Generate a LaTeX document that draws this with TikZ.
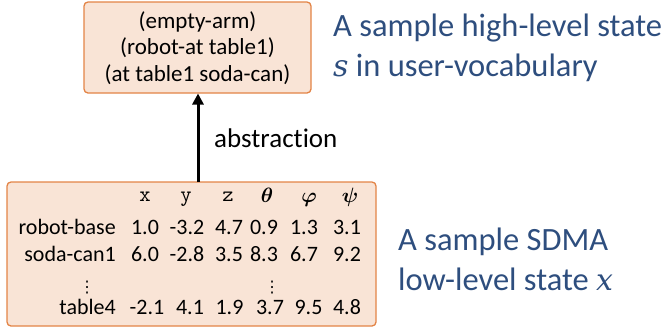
\documentclass[tikz,border=0pt]{standalone}
\usepackage{fontspec}
\usepackage{amsmath,bm}
\usetikzlibrary{arrows.meta}
\setmainfont{Carlito}[RawFeature={-liga}]
\newfontfamily\varit{DejaVu Serif}[RawFeature={-liga}]
\newfontfamily\symf{DejaVu Sans}
\definecolor{boxfill}{HTML}{F9E4D6}
\definecolor{boxline}{HTML}{E38446}
\definecolor{bluetxt}{HTML}{2E4E7E}
\begin{document}
\begin{tikzpicture}[x=1pt,y=-1pt,
  statebox/.style={draw=boxline,fill=boxfill,line width=1.3pt,rounded corners=4pt},
  cell/.style={inner sep=0pt,font=\fontsize{22}{24}\selectfont,anchor=base},
  lab/.style={inner sep=0pt,font=\fontsize{22}{24}\selectfont,anchor=base east},
  hdr/.style={inner sep=0pt,font=\ttfamily\fontsize{22}{24}\selectfont,anchor=base},
  pred/.style={inner sep=0pt,font=\fontsize{23}{26}\selectfont,anchor=base},
  dots/.style={inner sep=0pt,font=\symf\fontsize{16}{18}\selectfont,anchor=base},
  note/.style={inner sep=0pt,font=\fontsize{32.5}{36}\selectfont,text=bluetxt,anchor=base west}]
\useasboundingbox (0,0) rectangle (665,333);
% top box
\draw[statebox] (84,2) rectangle (311,93);
\node[pred] (p1) at (197.5,28) {(empty-arm)};
\node[pred] (p2) at (197.5,54) {(robot-at table1)};
\node[pred] (p3) at (197.5,81) {(at table1 soda-can)};
\coordinate (topb) at (198,93.5);
% bottom box
\draw[statebox] (7,182) rectangle (376,326);
\coordinate (botb) at (198,182);
\draw[line width=3pt,-{Triangle[length=11pt,width=11pt]}] (botb) -- (topb);
\node[inner sep=0pt,anchor=base west,font=\fontsize{27}{30}\selectfont] (abs) at (214,147) {abstraction};
% headers
\node[hdr] (hx) at (145,201) {x};
\node[hdr] (hy) at (186,201) {y};
\node[hdr] (hz) at (228,201) {z};
\node[cell] (ht) at (267,202) {$\bm{\theta}$};
\node[cell] (hp) at (309,202) {$\bm{\varphi}$};
\node[cell] (hq) at (350,202) {$\bm{\psi}$};
% rows
\node[lab] (l1) at (116,234) {robot-base};
\node[cell] (a1) at (145,234) {1.0};
\node[cell] (b1) at (187,234) {-3.2};
\node[cell] (c1) at (229,234) {4.7};
\node[cell] (d1) at (264,234) {0.9};
\node[cell] (e1) at (304,234) {1.3};
\node[cell] (f1) at (347,234) {3.1};
\node[lab] (l2) at (116,261) {soda-can1};
\node[cell] (a2) at (145,261) {6.0};
\node[cell] (b2) at (187,261) {-2.8};
\node[cell] (c2) at (229,261) {3.5};
\node[cell] (d2) at (264,261) {8.3};
\node[cell] (e2) at (304,261) {6.7};
\node[cell] (f2) at (347,261) {9.2};
\node[lab] (l3) at (116,314) {table4};
\node[cell] (a3) at (147,314) {-2.1};
\node[cell] (b3) at (190,314) {4.1};
\node[cell] (c3) at (229.5,314) {1.9};
\node[cell] (d3) at (270,314) {3.7};
\node[cell] (e3) at (308.5,314) {9.5};
\node[cell] (f3) at (347,314) {4.8};
\node[dots] (v1) at (87,292) {⋮};
\node[dots] (v2) at (272,292) {⋮};
% notes
\node[note] (n1) at (333,36) {A sample high-level state};
\node[note] (n2) at (333,76) {{\varit\itshape\fontsize{30}{36}\selectfont s} in user-vocabulary};
\node[note] (n3) at (398,250) {A sample SDMA};
\node[note] (n4) at (398,290) {low-level state {\varit\itshape\fontsize{30}{36}\selectfont x}};
\end{tikzpicture}
\end{document}
